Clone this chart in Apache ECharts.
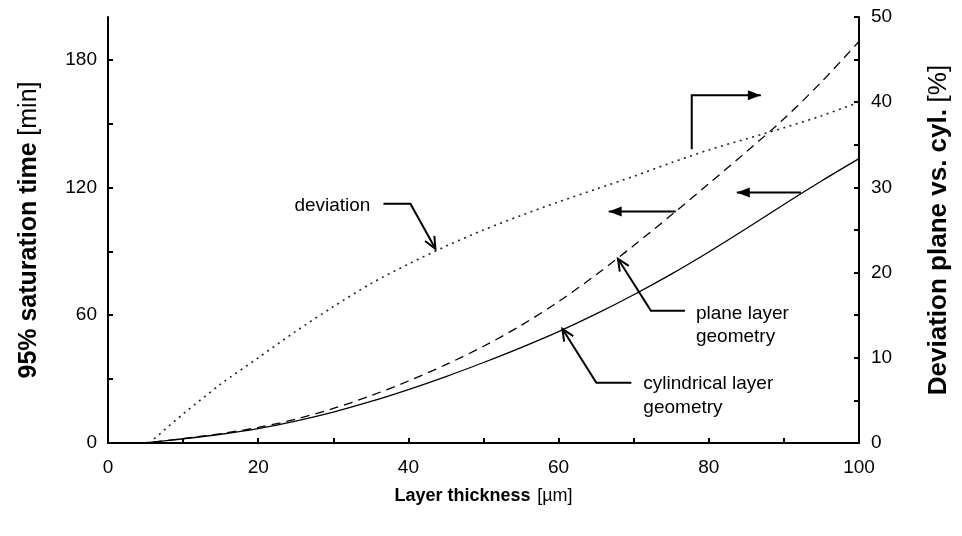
<!DOCTYPE html>
<html>
<head>
<meta charset="utf-8">
<script src="https://cdn.jsdelivr.net/npm/echarts@6/dist/echarts.min.js"></script>
<style>
  html, body { margin: 0; padding: 0; background: #fff; }
  #chart { width: 962px; height: 536px; }
</style>
</head>
<body>
<div id="chart"></div>
<script>
// Layer thickness in µm
const thickness = [0, 5, 10, 15, 20, 25, 30, 35, 40, 45, 50, 55, 60, 65, 70, 75, 80, 85, 90, 95, 100];
// 95% saturation time in minutes, cylindrical layer geometry
const cylindrical = [0, 0.2, 2, 4.1, 6.8, 10.3, 14.5, 19.5, 25.1, 31.2, 37.8, 44.8, 52.3, 60.6, 69.6, 79.3, 89.7, 100.7, 112, 123, 133.5];
// 95% saturation time in minutes, plane layer geometry
const plane = [0, 0.2, 2.1, 4.4, 7.3, 11.2, 16.2, 22.2, 29.1, 36.8, 45.4, 55.2, 66.4, 79, 92.7, 107, 121.7, 136.7, 152.2, 169.5, 188.5];
// Deviation plane vs. cylindrical in %, starting where it becomes positive
const devThickness = [5.5, 10, 15, 20, 25, 30, 35, 40, 45, 50, 55, 60, 65, 70, 75, 80, 85, 90, 95, 100];
const deviation = [0, 3.4, 6.9, 10, 13.1, 16, 18.7, 21, 23.1, 25, 26.7, 28.3, 29.8, 31.3, 32.9, 34.4, 35.7, 37, 38.4, 40];

// Tick positions and labelled ticks
const xTicks = [0, 10, 20, 30, 40, 50, 60, 70, 80, 90, 100];
const xLabels = [0, 20, 40, 60, 80, 100];
const timeTicks = [0, 30, 60, 90, 120, 150, 180];
const timeLabels = [0, 60, 120, 180];
const devTicks = [0, 5, 10, 15, 20, 25, 30, 35, 40, 45, 50];
const devLabels = [0, 10, 20, 30, 40, 50];

const FONT = '"Liberation Sans", Arial, Helvetica, sans-serif';

const pairs = (xs, ys) => xs.map((x, i) => [x, ys[i]]);

const axisCommon = {
  axisLine: { show: true, onZero: false, lineStyle: { color: '#000', width: 2 } },
  axisTick: { show: true, inside: true, length: 5, lineStyle: { color: '#000', width: 2 } },
  splitLine: { show: false },
  axisLabel: { color: '#000', fontSize: 19, fontFamily: FONT },
  nameTextStyle: { color: '#000', fontFamily: FONT }
};

function titleRich(size) {
  return {
    b: { fontSize: size, fontWeight: 'bold', fontFamily: FONT, color: '#000' },
    r: { fontSize: size, fontFamily: FONT, color: '#000' }
  };
}

const chart = echarts.init(document.getElementById('chart'), null, { renderer: 'canvas' });

chart.setOption({
  animation: false,
  backgroundColor: '#fff',
  textStyle: { fontFamily: FONT },
  grid: { left: 108, right: 103, top: 17, bottom: 93, containLabel: false, outerBoundsMode: 'none' },
  xAxis: {
    type: 'value', min: 0, max: 100,
    ...axisCommon,
    axisTick: { ...axisCommon.axisTick, customValues: xTicks },
    axisLabel: { ...axisCommon.axisLabel, customValues: xLabels, margin: 15 },
    name: '{b|Layer thickness}  {r|[µm]}',
    nameLocation: 'middle', nameGap: 44,
    nameTextStyle: { rich: titleRich(18) }
  },
  yAxis: [
    {
      type: 'value', min: 0, max: 200, position: 'left',
      ...axisCommon,
      axisTick: { ...axisCommon.axisTick, customValues: timeTicks },
      axisLabel: { ...axisCommon.axisLabel, customValues: timeLabels, margin: 11 },
      name: '{b|95% saturation time}  {r|[min]}',
      nameLocation: 'middle', nameGap: 66, nameRotate: 90,
      nameTextStyle: { rich: titleRich(25) }
    },
    {
      type: 'value', min: 0, max: 50, position: 'right',
      ...axisCommon,
      axisTick: { ...axisCommon.axisTick, customValues: devTicks },
      axisLabel: { ...axisCommon.axisLabel, customValues: devLabels, margin: 12 },
      name: '{b|Deviation plane vs. cyl.}  {r|[%]}',
      nameLocation: 'middle', nameGap: 67, nameRotate: 90,
      nameTextStyle: { rich: titleRich(26) }
    }
  ],
  series: [
    {
      name: 'cylindrical layer geometry', type: 'line', yAxisIndex: 0,
      data: pairs(thickness, cylindrical), showSymbol: false, smooth: 0.3,
      lineStyle: { color: '#000', width: 1.3, type: 'solid' }
    },
    {
      name: 'plane layer geometry', type: 'line', yAxisIndex: 0,
      data: pairs(thickness, plane), showSymbol: false, smooth: 0.3,
      lineStyle: { color: '#000', width: 1.3, type: [9, 6] }
    },
    {
      name: 'deviation', type: 'line', yAxisIndex: 1,
      data: pairs(devThickness, deviation), showSymbol: false, smooth: 0.3,
      lineStyle: { color: '#222', width: 1.6, type: [2, 4.5] }
    }
  ]
});

// ---- Annotations: labels with leader arrows, and axis-direction arrows ----
const toPx = (pt, axis) => chart.convertToPixel({ xAxisIndex: 0, yAxisIndex: axis }, pt);

function openHead(tip, from, len, ang) {
  const a = Math.atan2(from[1] - tip[1], from[0] - tip[0]);
  return [
    [tip[0] + len * Math.cos(a + ang), tip[1] + len * Math.sin(a + ang)],
    tip,
    [tip[0] + len * Math.cos(a - ang), tip[1] + len * Math.sin(a - ang)]
  ];
}
function filledHead(tip, from, len, half) {
  const a = Math.atan2(from[1] - tip[1], from[0] - tip[0]);
  const bx = tip[0] + len * Math.cos(a), by = tip[1] + len * Math.sin(a);
  const nx = -Math.sin(a) * half, ny = Math.cos(a) * half;
  return [tip, [bx + nx, by + ny], [bx - nx, by - ny]];
}

const stroke = { stroke: '#000', lineWidth: 2, fill: null };
const graphics = [];

function leader(tip, offsets, lines, textDx, textDy, align) {
  const pts = offsets.map(o => [tip[0] + o[0], tip[1] + o[1]]);
  pts.push(tip);
  graphics.push({ type: 'polyline', shape: { points: pts }, style: stroke, z: 10 });
  graphics.push({ type: 'polyline', shape: { points: openHead(tip, pts[pts.length - 2], 13, 0.42) }, style: stroke, z: 10 });
  lines.forEach((t, i) => {
    graphics.push({
      type: 'text', z: 10,
      style: {
        text: t, x: tip[0] + textDx, y: tip[1] + textDy + i * 23.5,
        font: '19px ' + FONT, fill: '#000', align: align, verticalAlign: 'middle'
      }
    });
  });
}

function dirArrow(pts) {
  graphics.push({ type: 'polyline', shape: { points: pts }, style: stroke, z: 10 });
  const tip = pts[pts.length - 1];
  graphics.push({ type: 'polygon', shape: { points: filledHead(tip, pts[pts.length - 2], 13, 5) }, style: { fill: '#000' }, z: 10 });
}

// Leader tips sit on the curves they describe
leader(toPx([43.6, 22.8], 1), [[-52, -45], [-25, -45]], ['deviation'], -65, -43, 'right');
leader(toPx([67.9, 86.5], 0), [[67, 52], [33, 52]], ['plane layer', 'geometry'], 78, 55, 'left');
leader(toPx([60.5, 53.6], 0), [[69, 54], [34, 54]], ['cylindrical layer', 'geometry'], 81, 55, 'left');

// Arrows showing which axis each curve belongs to
dirArrow([toPx([77.73, 137.9], 0), toPx([77.73, 163.3], 0), toPx([86.93, 163.3], 0)]);
dirArrow([toPx([75.6, 108.7], 0), toPx([66.67, 108.7], 0)]);
dirArrow([toPx([92.27, 117.6], 0), toPx([83.73, 117.6], 0)]);

chart.setOption({ graphic: graphics });
</script>
</body>
</html>
